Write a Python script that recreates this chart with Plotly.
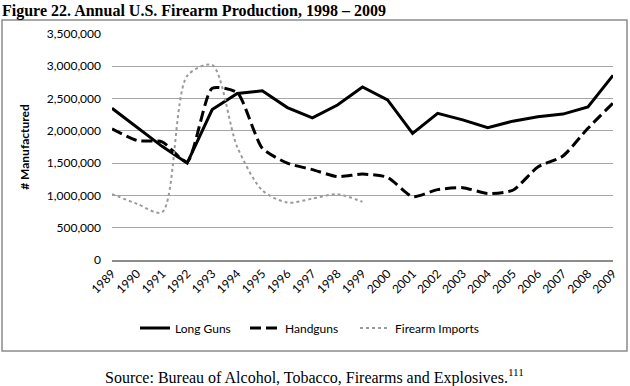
import plotly.graph_objects as go

years = [str(y) for y in range(1989, 2010)]
long_guns = [2350000, 2050000, 1760000, 1500000, 2330000, 2580000, 2620000, 2360000, 2200000, 2400000,
             2680000, 2480000, 1960000, 2270000, 2170000, 2050000, 2150000, 2220000, 2260000, 2370000, 2860000]
handguns = [2030000, 1850000, 1830000, 1520000, 2660000, 2590000, 1730000, 1500000, 1400000, 1290000,
            1330000, 1280000, 980000, 1090000, 1120000, 1030000, 1080000, 1440000, 1610000, 2040000, 2430000]
imports_years = years[:11]
imports = [1020000, 870000, 740000, 2850000, 3020000, 1750000, 1080000, 890000, 950000, 1020000, 900000]
y_ticks = [0, 500000, 1000000, 1500000, 2000000, 2500000, 3000000, 3500000]

FONT = "Lato"
fig = go.Figure()
fig.add_trace(go.Scatter(x=years, y=long_guns, mode="lines", name="Long Guns", legend="legend",
                         line=dict(color="black", width=3)))
fig.add_trace(go.Scatter(x=years, y=handguns, mode="lines", name="Handguns", legend="legend2",
                         line=dict(color="black", width=3, dash="11px,5px", shape="spline", smoothing=0.6)))
fig.add_trace(go.Scatter(x=imports_years, y=imports, mode="lines", name="Firearm Imports", legend="legend3",
                         line=dict(color="#9a9a9a", width=2, dash="dot", shape="spline", smoothing=0.8)))

L, R, T, B = 112, 17, 34, 126
pw, ph = 630 - L - R, 386 - T - B

def px(xp):
    return (xp - L) / pw

def py(yp):
    return (386 - B - yp) / ph

def leg(xp):
    return dict(orientation="h", x=px(xp), y=py(328), xanchor="left", yanchor="middle",
                font=dict(family=FONT, size=12), itemwidth=30, bgcolor="rgba(0,0,0,0)")

fig.update_layout(
    width=630, height=386,
    margin=dict(l=L, r=R, t=T, b=B, autoexpand=False),
    paper_bgcolor="white", plot_bgcolor="white",
    font=dict(family=FONT, size=12, color="black"),
    title=dict(text="<b>Figure 22. Annual U.S. Firearm Production, 1998 – 2009</b>",
               xref="container", yref="container", x=2 / 630, y=1 - 10 / 386,
               xanchor="left", yanchor="middle",
               font=dict(family="Liberation Serif", size=16, color="black")),
    legend=leg(135), legend2=leg(245), legend3=leg(355),
    showlegend=True,
)
fig.update_xaxes(type="category", tickangle=-45, showgrid=False, showline=True,
                 linecolor="#8c8c8c", linewidth=2, ticks="", tickfont=dict(family=FONT, size=12))
fig.update_yaxes(range=[0, 3500000], tickvals=y_ticks, tickformat=",", showgrid=True,
                 gridcolor="#a6a6a6", gridwidth=1, zeroline=False, showline=False, ticks="",
                 tickfont=dict(family=FONT, size=12), ticklabelstandoff=10,
                 title=dict(text="<b># Manufactured</b>", font=dict(family=FONT, size=12), standoff=14))

fig.add_shape(type="rect", xref="paper", yref="paper", x0=px(2), x1=px(627), y0=py(351), y1=py(20),
              line=dict(color="#8c8c8c", width=1.5), fillcolor="rgba(0,0,0,0)", layer="below")
fig.add_annotation(xref="paper", yref="paper", x=px(314), y=py(376), xanchor="center", yanchor="middle",
                   text="Source: Bureau of Alcohol, Tobacco, Firearms and Explosives.<sup>111</sup>",
                   showarrow=False, font=dict(family="Liberation Serif", size=16, color="black"))

fig.write_html("out.html", config={"displayModeBar": False},
               post_script="document.body.style.margin='0';")
